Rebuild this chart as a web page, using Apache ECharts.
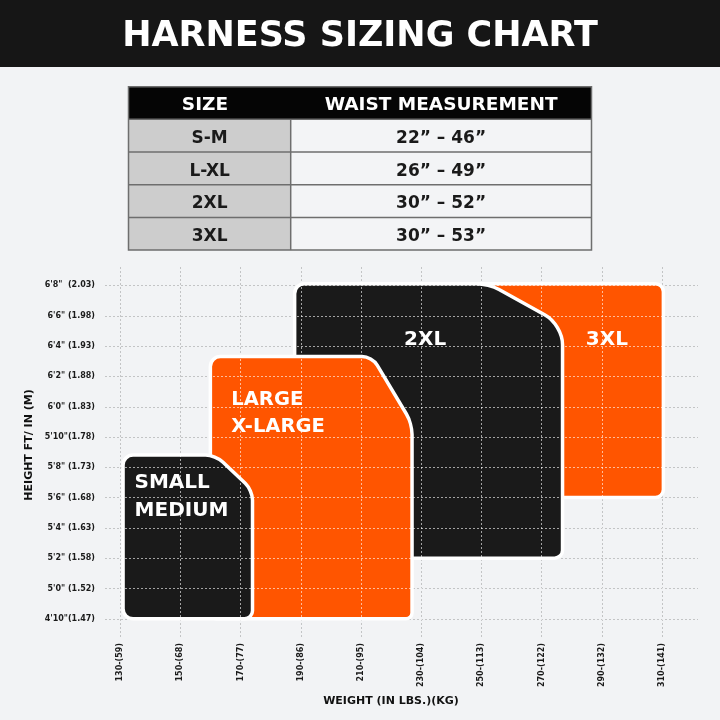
<!DOCTYPE html>
<html><head><meta charset="utf-8">
<script src="https://cdn.jsdelivr.net/npm/echarts@6/dist/echarts.min.js"></script>
<style>html,body{margin:0;padding:0;background:#f2f3f5}#c{width:720px;height:720px}</style>
</head><body><div id="c"></div>
<script>
// ---------- data ----------
const chartTitle = 'HARNESS SIZING CHART';
const tableHeaders = ['SIZE', 'WAIST MEASUREMENT'];
const tableSizes = ['S-M', 'L-XL', '2XL', '3XL'];
const tableWaist = ['22” – 46”', '26” – 49”', '30” – 52”', '30” – 53”'];

const xTicks = [130, 150, 170, 190, 210, 230, 250, 270, 290, 310];
const xTickLabels = ['130-(59)', '150-(68)', '170-(77)', '190-(86)', '210-(95)', '230-(104)', '250-(113)', '270-(122)', '290-(132)', '310-(141)'];
const yTicks = [58, 60, 62, 64, 66, 68, 70, 72, 74, 76, 78, 80];
const yTickLabels = ['4\'10"(1.47)', '5\'0" (1.52)', '5\'2" (1.58)', '5\'4" (1.63)', '5\'6" (1.68)', '5\'8" (1.73)', '5\'10"(1.78)', '6\'0" (1.83)', '6\'2" (1.88)', '6\'4" (1.93)', '6\'6" (1.98)', '6\'8"  (2.03)'];
const xAxisName = 'WEIGHT (IN LBS.)(KG)';
const yAxisName = 'HEIGHT FT/ IN (M)';

// size regions (drawing order: back to front)
const sizeNames = ['3XL', '2XL', 'LARGE\nX-LARGE', 'SMALL\nMEDIUM'];
const weightMin = [240, 188, 160, 131];
const weightMax = [310.5, 277, 227, 174];
const heightMin = [66, 62, 58, 58];
const heightMax = [80.1, 80.1, 75.3, 68.8];

// ---------- styles ----------
const ORANGE = '#ff5500', BLACK = '#1a1a1a';
const shapeStyles = [
  {color: ORANGE, chamfer: null, radii: [8, 8, 8, 8], label: {ref: 'right', dx: -56.5, dy: 56, align: 'center', gap: 28, size: 20}},
  {color: BLACK, chamfer: [74, 41], radii: [10, 12, 20, 8, 8], label: {ref: 'left', dx: 130.5, dy: 56, align: 'center', gap: 28, size: 20}},
  {color: ORANGE, chamfer: [40, 67], radii: [10, 10, 11, 6, 6], label: {ref: 'left', dx: 21, dy: 43, align: 'left', gap: 27, size: 19.5}},
  {color: BLACK, chamfer: [37, 35], radii: [10, 10, 10, 8, 10], label: {ref: 'left', dx: 11.5, dy: 28, align: 'left', gap: 28, size: 20}}
];
const FONT = '"DejaVu Sans", sans-serif';

function roundedPath(pts, radii) {
  const n = pts.length, k = 0.5523;
  let d = '';
  for (let i = 0; i < n; i++) {
    const p = pts[i], pr = pts[(i - 1 + n) % n], nx = pts[(i + 1) % n];
    const l1 = Math.hypot(pr[0] - p[0], pr[1] - p[1]);
    const l2 = Math.hypot(nx[0] - p[0], nx[1] - p[1]);
    const r = Math.min(radii[i], l1 / 2, l2 / 2);
    const a = [p[0] + (pr[0] - p[0]) / l1 * r, p[1] + (pr[1] - p[1]) / l1 * r];
    const b = [p[0] + (nx[0] - p[0]) / l2 * r, p[1] + (nx[1] - p[1]) / l2 * r];
    const c1 = [a[0] + (p[0] - a[0]) * k, a[1] + (p[1] - a[1]) * k];
    const c2 = [b[0] + (p[0] - b[0]) * k, b[1] + (p[1] - b[1]) * k];
    const f = v => v.toFixed(2);
    d += (i === 0 ? 'M' : 'L') + f(a[0]) + ' ' + f(a[1]) +
      ' C' + f(c1[0]) + ' ' + f(c1[1]) + ' ' + f(c2[0]) + ' ' + f(c2[1]) + ' ' + f(b[0]) + ' ' + f(b[1]) + ' ';
  }
  return d + 'Z';
}

function gridLines(params, api, color) {
  const cs = params.coordSys;
  const kids = [];
  xTicks.forEach(v => {
    const x = Math.round(api.coord([v, yTicks[0]])[0]) + 0.5;
    kids.push({type: 'line', silent: true, shape: {x1: x, y1: cs.y, x2: x, y2: cs.y + cs.height},
      style: {stroke: color, lineWidth: 1, lineDash: [2, 2]}});
  });
  yTicks.forEach(v => {
    const y = Math.round(api.coord([xTicks[0], v])[1]) + 0.5;
    kids.push({type: 'line', silent: true, shape: {x1: cs.x, y1: y, x2: cs.x + cs.width, y2: y},
      style: {stroke: color, lineWidth: 1, lineDash: [2, 2]}});
  });
  return kids;
}

function renderShape(params, api) {
  const i = api.value(4);
  const st = shapeStyles[i];
  const tl = api.coord([api.value(0), api.value(3)]);
  const br = api.coord([api.value(1), api.value(2)]);
  const L = tl[0], T = tl[1], R = br[0], B = br[1];
  let pts;
  if (st.chamfer) {
    pts = [[L, T], [R - st.chamfer[0], T], [R, T + st.chamfer[1]], [R, B], [L, B]];
  } else {
    pts = [[L, T], [R, T], [R, B], [L, B]];
  }
  const children = [];
  // the grid's dotted lines sit underneath the first (back) shape
  if (i === 0) children.push(...gridLines(params, api, '#696b6e'));
  children.push({
    type: 'path',
    shape: {pathData: roundedPath(pts, st.radii)},
    style: {fill: st.color, stroke: '#ffffff', lineWidth: 3.5}
  });
  const lb = st.label;
  const lines = sizeNames[i].split('\n');
  const ax = (lb.ref === 'right' ? R : L) + lb.dx;
  lines.forEach((t, j) => {
    children.push({
      type: 'text', x: ax, y: T + lb.dy + j * lb.gap,
      style: {text: t, fill: '#ffffff', fontSize: lb.size, fontWeight: 'bold', fontFamily: FONT, align: lb.align, verticalAlign: 'middle'}
    });
  });
  // translucent copy of the grid on top of the front-most shape
  if (i === sizeNames.length - 1) children.push(...gridLines(params, api, 'rgba(255,255,255,0.6)'));
  return {type: 'group', children};
}

// ---------- table graphics ----------
const T_LEFT = 128.5, T_RIGHT = 591.5, T_COL = 290.7, T_TOP = 86.7, T_HEAD = 32.6, T_ROW = 32.7;
const graphics = [];
graphics.push({type: 'rect', shape: {x: 0, y: 0, width: 720, height: 67}, style: {fill: '#161616'}});
graphics.push({type: 'text', x: 360, y: 37, style: {text: chartTitle, fill: '#ffffff', fontSize: 35, fontWeight: 'bold', fontFamily: FONT, align: 'center', verticalAlign: 'middle'}});
graphics.push({type: 'rect', shape: {x: T_LEFT, y: T_TOP, width: T_RIGHT - T_LEFT, height: T_HEAD}, style: {fill: '#050505'}});
tableSizes.forEach((s, i) => {
  const y = T_TOP + T_HEAD + i * T_ROW;
  graphics.push({type: 'rect', shape: {x: T_LEFT, y, width: T_COL - T_LEFT, height: T_ROW}, style: {fill: '#cdcdcd'}});
  graphics.push({type: 'rect', shape: {x: T_COL, y, width: T_RIGHT - T_COL, height: T_ROW}, style: {fill: '#f3f4f6'}});
});
const tBottom = T_TOP + T_HEAD + tableSizes.length * T_ROW;
for (let i = 1; i < tableSizes.length; i++) {
  const y = T_TOP + T_HEAD + i * T_ROW;
  graphics.push({type: 'line', shape: {x1: T_LEFT, y1: y, x2: T_RIGHT, y2: y}, style: {stroke: '#6e6e6e', lineWidth: 1.5}});
}
graphics.push({type: 'line', shape: {x1: T_LEFT, y1: T_TOP + T_HEAD, x2: T_RIGHT, y2: T_TOP + T_HEAD}, style: {stroke: '#6e6e6e', lineWidth: 1.5}});
graphics.push({type: 'line', shape: {x1: T_COL, y1: T_TOP + T_HEAD, x2: T_COL, y2: tBottom}, style: {stroke: '#6e6e6e', lineWidth: 1.5}});
graphics.push({type: 'rect', shape: {x: T_LEFT, y: T_TOP, width: T_RIGHT - T_LEFT, height: tBottom - T_TOP}, style: {fill: 'none', stroke: '#6e6e6e', lineWidth: 1.5}});
graphics.push({type: 'text', x: 205, y: T_TOP + T_HEAD / 2 + 2.5, style: {text: tableHeaders[0], fill: '#ffffff', fontSize: 18.5, fontWeight: 'bold', fontFamily: FONT, align: 'center', verticalAlign: 'middle'}});
graphics.push({type: 'text', x: (T_COL + T_RIGHT) / 2, y: T_TOP + T_HEAD / 2 + 2.5, style: {text: tableHeaders[1], fill: '#ffffff', fontSize: 18.5, fontWeight: 'bold', fontFamily: FONT, align: 'center', verticalAlign: 'middle'}});
tableSizes.forEach((s, i) => {
  const cy = T_TOP + T_HEAD + i * T_ROW + T_ROW / 2 + 3;
  graphics.push({type: 'text', x: (T_LEFT + T_COL) / 2, y: cy, style: {text: s, fill: '#1a1a1a', fontSize: 17, fontWeight: 'bold', fontFamily: FONT, align: 'center', verticalAlign: 'middle'}});
  graphics.push({type: 'text', x: (T_COL + T_RIGHT) / 2, y: cy, style: {text: tableWaist[i], fill: '#1a1a1a', fontSize: 17, fontWeight: 'bold', fontFamily: FONT, align: 'center', verticalAlign: 'middle'}});
});
graphics.push({type: 'text', x: 391, y: 701, style: {text: xAxisName, fill: '#111111', fontSize: 11, fontWeight: 'bold', fontFamily: FONT, align: 'center', verticalAlign: 'middle'}});
graphics.push({type: 'text', x: 29, y: 445, rotation: Math.PI / 2, style: {text: yAxisName, fill: '#111111', fontSize: 11, fontWeight: 'bold', fontFamily: FONT, align: 'center', verticalAlign: 'middle'}});

const lookup = (ticks, labels) => v => {
  const k = ticks.findIndex(t => Math.abs(t - v) < 1e-6);
  return k >= 0 ? labels[k] : '';
};

const chart = echarts.init(document.getElementById('c'), null, {renderer: 'canvas'});
chart.setOption({
  backgroundColor: '#f2f3f5',
  animation: false,
  grid: {left: 105, right: 22, top: 267, bottom: 83, containLabel: false},
  xAxis: {
    type: 'value', min: 125, max: 322,
    axisLine: {show: false}, axisTick: {show: false}, splitLine: {show: false},
    axisLabel: {customValues: xTicks, formatter: lookup(xTicks, xTickLabels), rotate: 90, margin: 6,
      fontSize: 8, fontWeight: 'bold', fontFamily: FONT, color: '#1a1a1a'}
  },
  yAxis: {
    type: 'value', min: 56.8, max: 81.2,
    axisLine: {show: false}, axisTick: {show: false}, splitLine: {show: false},
    axisLabel: {customValues: yTicks, formatter: lookup(yTicks, yTickLabels), margin: 10,
      fontSize: 8, fontWeight: 'bold', fontFamily: FONT, color: '#1a1a1a'}
  },
  graphic: graphics,
  series: [
    {type: 'custom', name: 'sizes', encode: {x: [0, 1], y: [2, 3]},
      data: sizeNames.map((n, i) => [weightMin[i], weightMax[i], heightMin[i], heightMax[i], i]),
      renderItem: renderShape}
  ]
});
</script></body></html>
